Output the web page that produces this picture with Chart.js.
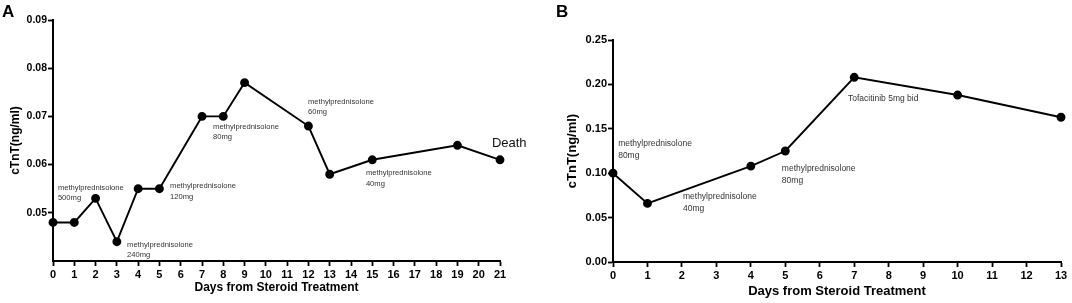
<!DOCTYPE html>
<html>
<head>
<meta charset="utf-8">
<script src="https://cdn.jsdelivr.net/npm/chart.js@4/dist/chart.umd.min.js"></script>
<style>
    body { margin: 0; background: #fff; }
    #wrap { position: relative; width: 1072px; height: 303px; }
    .panel { position: absolute; top: 0; }
    .tag {
        position: absolute;
        font: bold 17px "Liberation Sans", Arial, sans-serif;
        line-height: 17px;
        color: #000;
    }
</style>
</head>
<body>
<div id="wrap">
    <canvas id="chart-a" class="panel" width="536" height="303" style="left:0"></canvas>
    <canvas id="chart-b" class="panel" width="536" height="303" style="left:536px"></canvas>
    <div class="tag" style="left:2px;top:3px">A</div>
    <div class="tag" style="left:556px;top:3px">B</div>
</div>
<script>
(function () {
    "use strict";

    // data
    const daysA = [0, 1, 2, 3, 4, 5, 7, 8, 9, 12, 13, 15, 19, 21];
    const ctntA = [0.048, 0.048, 0.053, 0.044, 0.055, 0.055, 0.070, 0.070, 0.077, 0.068, 0.058, 0.061, 0.064, 0.061];
    const daysB = [0, 1, 4, 5, 7, 10, 13];
    const ctntB = [0.100, 0.066, 0.108, 0.125, 0.208, 0.188, 0.163];

    const xTicksA = [0, 1, 2, 3, 4, 5, 6, 7, 8, 9, 10, 11, 12, 13, 14, 15, 16, 17, 18, 19, 20, 21];
    const yTicksA = [0.05, 0.06, 0.07, 0.08, 0.09];
    const xTicksB = [0, 1, 2, 3, 4, 5, 6, 7, 8, 9, 10, 11, 12, 13];
    const yTicksB = [0.00, 0.05, 0.10, 0.15, 0.20, 0.25];

    const notesA = [
        ["methylprednisolone", "500mg"],
        ["methylprednisolone", "240mg"],
        ["methylprednisolone", "120mg"],
        ["methylprednisolone", "80mg"],
        ["methylprednisolone", "60mg"],
        ["methylprednisolone", "40mg"],
        ["Death"],
    ];
    const notesB = [
        ["methylprednisolone", "80mg"],
        ["methylprednisolone", "40mg"],
        ["methylprednisolone", "80mg"],
        ["Tofacitinib 5mg bid"],
    ];

    // where the notes sit (in axis units) and how big they are
    const noteSpotsA = [
        [0.23, 0.0552, 7.6], [3.48, 0.0434, 7.6], [5.5, 0.0555, 7.6],
        [7.52, 0.0679, 7.6], [11.98, 0.0731, 7.6], [14.7, 0.0583, 7.6],
        [20.62, 0.0643, 13],
    ];
    const noteSpotsB = [
        [0.15, 0.1329, 8.5], [2.03, 0.0735, 8.5], [4.9, 0.1055, 8.5],
        [6.82, 0.1836, 8.5],
    ];

    const FONT = "'Liberation Sans', Arial, sans-serif";

    const notesPlugin = {
        id: "notes",
        afterDatasetsDraw(chart, args, opts) {
            const ctx = chart.ctx;
            const x = chart.scales.x;
            const y = chart.scales.y;
            ctx.save();
            ctx.textAlign = "left";
            ctx.textBaseline = "middle";
            opts.notes.forEach((lines, i) => {
                const [vx, vy, size] = opts.spots[i];
                const px = x.getPixelForValue(vx);
                const py = y.getPixelForValue(vy);
                ctx.font = size + "px " + FONT;
                ctx.fillStyle = size > 10 ? "#111" : "#333";
                lines.forEach((t, k) => {
                    ctx.fillText(t, px, py + k * size * 1.4);
                });
            });
            ctx.restore();
        },
    };

    function makeChart(el, cfg) {
        return new Chart(el, {
            type: "line",
            data: {
                datasets: [
                    {
                        data: cfg.days.map((d, i) => ({ x: d, y: cfg.vals[i] })),
                        borderColor: "#000",
                        backgroundColor: "#000",
                        borderWidth: 1.9,
                        pointRadius: 3.5,
                        pointHoverRadius: 3.5,
                        tension: 0,
                        clip: false,
                    },
                ],
            },
            options: {
                responsive: false,
                animation: false,
                layout: {
                    padding: { left: 0, right: cfg.padRight, top: cfg.padTop, bottom: 0 },
                },
                plugins: {
                    legend: { display: false },
                    tooltip: { enabled: false },
                    notes: { notes: cfg.notes, spots: cfg.spots },
                },
                scales: {
                    x: {
                        type: "linear",
                        min: cfg.xTicks[0],
                        max: cfg.xTicks[cfg.xTicks.length - 1],
                        afterBuildTicks: (s) => {
                            s.ticks = cfg.xTicks.map((v) => ({ value: v }));
                        },
                        afterFit: (s) => {
                            s.height = cfg.xHeight;
                        },
                        ticks: {
                            autoSkip: false,
                            maxRotation: 0,
                            padding: 2,
                            color: "#000",
                            font: { family: FONT, size: 11, weight: "bold" },
                        },
                        grid: {
                            drawOnChartArea: false,
                            drawTicks: true,
                            tickLength: 5,
                            tickWidth: 1.8,
                            tickColor: "#000",
                        },
                        border: { display: true, color: "#000", width: 2 },
                        title: {
                            display: true,
                            text: "Days from Steroid Treatment",
                            color: "#000",
                            font: { family: FONT, size: cfg.titleSize, weight: "bold", lineHeight: 1.2 },
                            padding: { top: 0, bottom: cfg.xTitlePad },
                        },
                    },
                    y: {
                        min: cfg.yMin,
                        max: cfg.yTicks[cfg.yTicks.length - 1],
                        afterBuildTicks: (s) => {
                            s.ticks = cfg.yTicks.map((v) => ({ value: v }));
                        },
                        afterFit: (s) => {
                            s.width = cfg.yWidth;
                        },
                        ticks: {
                            padding: 1,
                            color: "#000",
                            font: { family: FONT, size: cfg.yTickSize, weight: "bold" },
                            callback: (v) => Number(v).toFixed(2),
                        },
                        grid: {
                            drawOnChartArea: false,
                            drawTicks: true,
                            tickLength: 5,
                            tickWidth: 1.8,
                            tickColor: "#000",
                        },
                        border: { display: true, color: "#000", width: 2 },
                        title: {
                            display: true,
                            text: "cTnT(ng/ml)",
                            color: "#000",
                            font: { family: FONT, size: cfg.titleSize, weight: "bold", lineHeight: 1.2 },
                            padding: { top: cfg.yTitlePad, bottom: 0 },
                        },
                    },
                },
            },
            plugins: [notesPlugin],
        });
    }

    makeChart(document.getElementById("chart-a"), {
        days: daysA,
        vals: ctntA,
        xTicks: xTicksA,
        yTicks: yTicksA,
        yMin: 0.04,
        notes: notesA,
        spots: noteSpotsA,
        padRight: 36,
        padTop: 20,
        xHeight: 42,
        yWidth: 53,
        titleSize: 12,
        yTickSize: 10.5,
        xTitlePad: 8,
        yTitlePad: 8,
    });

    makeChart(document.getElementById("chart-b"), {
        days: daysB,
        vals: ctntB,
        xTicks: xTicksB,
        yTicks: yTicksB,
        yMin: 0,
        notes: notesB,
        spots: noteSpotsB,
        padRight: 11,
        padTop: 40,
        xHeight: 41,
        yWidth: 77,
        titleSize: 13,
        yTickSize: 11,
        xTitlePad: 4,
        yTitlePad: 29,
    });
})();
</script>
</body>
</html>
